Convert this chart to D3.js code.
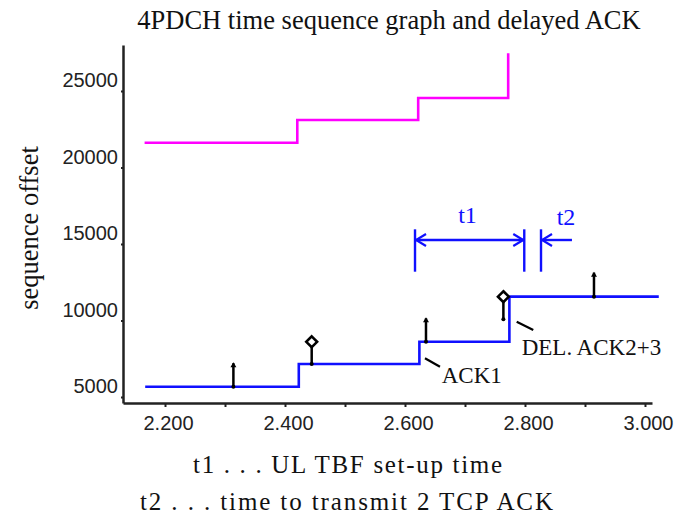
<!DOCTYPE html>
<html>
<head>
<meta charset="utf-8">
<script src="https://cdn.jsdelivr.net/npm/d3@7"></script>
<style>
  body { margin: 0; background: #fff; }
  svg { display: block; }
</style>
</head>
<body>
<div id="chart"></div>
<script>
// Step lines: sequence offset over time
const blueTimes = [2.167, 2.423, 2.624, 2.774, 3.023];
const blueSeq = [5665, 7150, 8600, 11550, 11550];
const magentaTimes = [2.166, 2.4205, 2.622, 2.772];
const magentaSeq = [21613, 23100, 24535, 27456];

// ACK markers (vertical sticks)
const ackTimes = [2.314, 2.4445, 2.635, 2.764, 2.915];
const ackLow = [5665, 7150, 8600, 10070, 11550];
const ackHigh = [7200, 8600, 10135, 11550, 13120];
const ackKind = ["arrow", "diamond", "arrow", "diamond", "arrow"];

// Axis ticks
const xTicks = [2.2, 2.3, 2.4, 2.5, 2.6, 2.7, 2.8, 2.9, 3.0];
const yTicks = [5000, 10000, 15000, 20000, 25000];

// Interval annotations (time)
const t1Start = 2.6167;
const t1End = 2.7988;
const t2Start = 2.8267;
const t2Tail = 2.8783;

const width = 677;
const height = 518;
const blue = "#1010ff";
const magenta = "#ff00ff";
const serif = "'Liberation Serif', 'Times New Roman', serif";
const sans = "'Liberation Sans', Arial, sans-serif";

const svg = d3.select("#chart").append("svg")
  .attr("width", width)
  .attr("height", height);

const defs = svg.append("defs");
defs.append("marker")
  .attr("id", "ackHead")
  .attr("viewBox", "-6 -6 12 12")
  .attr("markerUnits", "userSpaceOnUse")
  .attr("markerWidth", 12).attr("markerHeight", 12)
  .attr("orient", "auto")
  .append("path")
  .attr("d", "M-4,-3L1,0L-4,3Z")
  .attr("fill", "#000");
defs.append("marker")
  .attr("id", "ackDot")
  .attr("viewBox", "-4 -4 8 8")
  .attr("markerUnits", "userSpaceOnUse")
  .attr("markerWidth", 8).attr("markerHeight", 8)
  .append("circle")
  .attr("r", 2)
  .attr("fill", "#000");
defs.append("marker")
  .attr("id", "chevron")
  .attr("viewBox", "-14 -8 16 16")
  .attr("markerUnits", "userSpaceOnUse")
  .attr("markerWidth", 16).attr("markerHeight", 16)
  .attr("orient", "auto-start-reverse")
  .append("path")
  .attr("d", "M-10,-6L0,0L-10,6")
  .attr("fill", "none")
  .attr("stroke", blue)
  .attr("stroke-width", 2.2);

// Scales
const x = d3.scaleLinear().domain([2.13, 3.0117]).range([123, 652]);
const y = d3.scaleLinear().domain([4600, 28000]).range([403, 45]);

// Axes
const xAxis = svg.append("g")
  .attr("transform", `translate(0,${y.range()[0]})`)
  .call(d3.axisBottom(x)
    .tickValues(xTicks)
    .tickSize(4)
    .tickSizeOuter(0)
    .tickPadding(9)
    .tickFormat((d) => (Math.round(d * 10) % 2 === 0 ? d3.format(".3f")(d) : "")));
xAxis.select(".domain").attr("stroke", "#222").attr("stroke-width", 2.5);
xAxis.selectAll(".tick line").attr("stroke", "#222").attr("stroke-width", 2);
xAxis.selectAll(".tick text")
  .attr("dx", 3)
  .style("font-family", sans)
  .style("font-size", "20px")
  .attr("fill", "#222");

const yAxis = svg.append("g")
  .attr("transform", `translate(${x.range()[0]},0)`)
  .call(d3.axisLeft(y)
    .tickValues(yTicks)
    .tickSize(2)
    .tickSizeOuter(0)
    .tickPadding(3)
    .tickFormat(d3.format("d")));
yAxis.select(".domain").attr("stroke", "#222").attr("stroke-width", 2.5);
yAxis.selectAll(".tick line").attr("stroke", "#222").attr("stroke-width", 2);
yAxis.selectAll(".tick text")
  .attr("dy", "-0.2em")
  .style("font-family", sans)
  .style("font-size", "20px")
  .attr("fill", "#222");

// Step lines
const stepLine = d3.line()
  .x((d) => x(d[0]))
  .y((d) => y(d[1]))
  .curve(d3.curveStepAfter);

svg.append("path")
  .datum(magentaTimes.map((t, i) => [t, magentaSeq[i]]))
  .attr("d", stepLine)
  .attr("fill", "none")
  .attr("stroke", magenta)
  .attr("stroke-width", 2.6);

svg.append("path")
  .datum(blueTimes.map((t, i) => [t, blueSeq[i]]))
  .attr("d", stepLine)
  .attr("fill", "none")
  .attr("stroke", blue)
  .attr("stroke-width", 2.6);

// ACK sticks
const acks = ackTimes.map((t, i) => ({ t, lo: ackLow[i], hi: ackHigh[i], kind: ackKind[i] }));

svg.selectAll("line.ack")
  .data(acks)
  .enter()
  .append("line")
  .attr("class", "ack")
  .attr("x1", (d) => x(d.t))
  .attr("x2", (d) => x(d.t))
  .attr("y1", (d) => y(d.lo))
  .attr("y2", (d) => (d.kind === "arrow" ? y(d.hi) : y(d.hi) + 4))
  .attr("stroke", "#000")
  .attr("stroke-width", 2.5)
  .attr("marker-start", "url(#ackDot)")
  .attr("marker-end", (d) => (d.kind === "arrow" ? "url(#ackHead)" : null));

svg.selectAll("path.diamond")
  .data(acks.filter((d) => d.kind === "diamond"))
  .enter()
  .append("path")
  .attr("class", "diamond")
  .attr("d", d3.symbol().type(d3.symbolDiamond2).size(75))
  .attr("transform", (d) => `translate(${x(d.t)},${y(d.hi)})`)
  .attr("fill", "#fff")
  .attr("stroke", "#000")
  .attr("stroke-width", 2.6);

// t1 / t2 brackets
const brTop = 15953;
const brBottom = 13182;
const brArrow = 15254;
const ann = svg.append("g").attr("stroke", blue).attr("stroke-width", 2.4).attr("fill", "none");
[t1Start, t1End, t2Start].forEach((t) => {
  ann.append("line")
    .attr("x1", x(t)).attr("x2", x(t))
    .attr("y1", y(brTop)).attr("y2", y(brBottom));
});
ann.append("line")
  .attr("x1", x(t1Start) + 1).attr("x2", x(t1End) - 1)
  .attr("y1", y(brArrow)).attr("y2", y(brArrow))
  .attr("marker-start", "url(#chevron)")
  .attr("marker-end", "url(#chevron)");
ann.append("line")
  .attr("x1", x(t2Tail)).attr("x2", x(t2Start) + 1)
  .attr("y1", y(brArrow)).attr("y2", y(brArrow))
  .attr("marker-end", "url(#chevron)");

svg.append("text")
  .attr("x", x(2.7042)).attr("y", y(16365))
  .attr("text-anchor", "middle")
  .style("font-family", serif).style("font-size", "24px")
  .attr("fill", blue)
  .text("t1");
svg.append("text")
  .attr("x", x(2.8683)).attr("y", y(16234))
  .attr("text-anchor", "middle")
  .style("font-family", serif).style("font-size", "24px")
  .attr("fill", blue)
  .text("t2");

// ACK callouts
const callouts = [
  { from: [2.6333, 7522], to: [2.6583, 6973], text: "ACK1", at: [2.6612, 5888] },
  { from: [2.7862, 9914], to: [2.8138, 9371], text: "DEL. ACK2+3", at: [2.7945, 7737] },
];
callouts.forEach((c) => {
  svg.append("line")
    .attr("x1", x(c.from[0])).attr("y1", y(c.from[1]))
    .attr("x2", x(c.to[0])).attr("y2", y(c.to[1]))
    .attr("stroke", "#000").attr("stroke-width", 2.2);
  svg.append("text")
    .attr("x", x(c.at[0])).attr("y", y(c.at[1]))
    .style("font-family", serif).style("font-size", "23px")
    .attr("fill", "#111")
    .text(c.text);
});

// Titles and notes
svg.append("text")
  .attr("x", 389).attr("y", 29)
  .attr("text-anchor", "middle")
  .style("font-family", serif).style("font-size", "26.5px")
  .attr("fill", "#111")
  .text("4PDCH time sequence graph and delayed ACK");

svg.append("text")
  .attr("transform", "translate(38,228) rotate(-90)")
  .attr("text-anchor", "middle")
  .style("font-family", serif).style("font-size", "26.5px")
  .attr("fill", "#111")
  .text("sequence offset");

svg.append("text")
  .attr("x", 347.5).attr("y", 473)
  .attr("text-anchor", "middle")
  .attr("textLength", 309).attr("lengthAdjust", "spacing")
  .style("font-family", serif).style("font-size", "25px")
  .attr("fill", "#111")
  .text("t1 . . . UL TBF set-up time");

svg.append("text")
  .attr("x", 346.5).attr("y", 510)
  .attr("text-anchor", "middle")
  .attr("textLength", 413).attr("lengthAdjust", "spacing")
  .style("font-family", serif).style("font-size", "25px")
  .attr("fill", "#111")
  .text("t2 . . . time to transmit 2 TCP ACK");
</script>
</body>
</html>
